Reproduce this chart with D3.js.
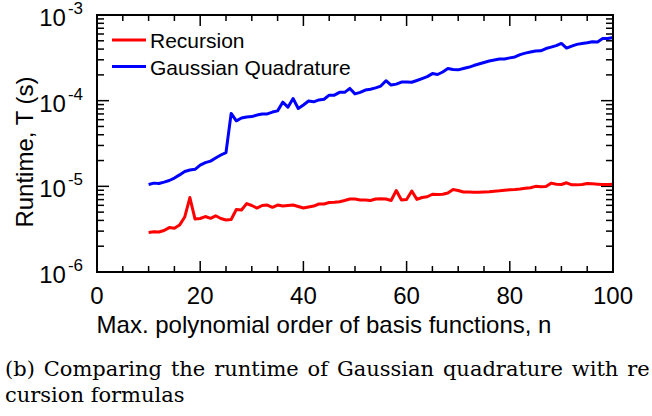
<!DOCTYPE html>
<html>
<head>
<meta charset="utf-8">
<script src="https://cdn.jsdelivr.net/npm/d3@7"></script>
<style>
  html, body { margin: 0; padding: 0; background: #fff; }
  svg { display: block; }
</style>
</head>
<body>
<svg id="chart" width="652" height="416"></svg>
<script>
// ---- data ----
const orderN = [10,11,12,13,14,15,16,17,18,19,20,21,22,23,24,25,26,27,28,29,
  30,31,32,33,34,35,36,37,38,39,40,41,42,43,44,45,46,47,48,49,
  50,51,52,53,54,55,56,57,58,59,60,61,62,63,64,65,66,67,68,69,
  70,71,72,73,74,75,76,77,78,79,80,81,82,83,84,85,86,87,88,89,
  90,91,92,93,94,95,96,97,98,99,100];

const recursionT = [
  2.89e-6, 2.95e-6, 2.93e-6, 3.05e-6, 3.30e-6, 3.24e-6, 3.53e-6, 4.38e-6, 7.4e-6, 4.15e-6,
  4.21e-6, 4.44e-6, 4.23e-6, 4.53e-6, 4.21e-6, 4.04e-6, 4.10e-6, 5.36e-6, 5.29e-6, 6.29e-6,
  5.97e-6, 5.58e-6, 5.97e-6, 6.05e-6, 5.69e-6, 6.05e-6, 5.89e-6, 5.97e-6, 6.05e-6, 5.81e-6,
  5.58e-6, 5.73e-6, 5.89e-6, 6.22e-6, 6.22e-6, 6.47e-6, 6.50e-6, 6.61e-6, 6.83e-6, 7.11e-6,
  7.11e-6, 6.92e-6, 6.92e-6, 6.83e-6, 7.11e-6, 7.17e-6, 7.11e-6, 6.83e-6, 8.93e-6, 6.92e-6,
  7.01e-6, 8.81e-6, 7.04e-6, 7.40e-6, 7.56e-6, 8.08e-6, 8.05e-6, 8.10e-6, 8.35e-6, 9.18e-6,
  8.93e-6, 8.58e-6, 8.60e-6, 8.51e-6, 8.52e-6, 8.58e-6, 8.65e-6, 8.77e-6, 8.86e-6, 9.01e-6,
  9.13e-6, 9.20e-6, 9.30e-6, 9.48e-6, 9.64e-6, 1.00e-5, 9.89e-6, 9.94e-6, 1.09e-5, 1.06e-5,
  1.05e-5, 1.10e-5, 1.04e-5, 1.04e-5, 1.05e-5, 1.08e-5, 1.07e-5, 1.06e-5, 1.05e-5, 1.05e-5,
  1.06e-5];

const gaussianT = [
  1.05e-5, 1.09e-5, 1.08e-5, 1.12e-5, 1.17e-5, 1.25e-5, 1.36e-5, 1.49e-5, 1.55e-5, 1.58e-5,
  1.77e-5, 1.89e-5, 1.97e-5, 2.14e-5, 2.32e-5, 2.48e-5, 7.1e-5, 5.82e-5, 6.27e-5, 6.44e-5,
  6.52e-5, 6.79e-5, 6.98e-5, 7.0e-5, 7.36e-5, 7.6e-5, 9.6e-5, 8.4e-5, 1.06e-4, 8.1e-5,
  8.9e-5, 9.9e-5, 9.7e-5, 1.02e-4, 1.04e-4, 1.16e-4, 1.16e-4, 1.25e-4, 1.25e-4, 1.39e-4,
  1.20e-4, 1.25e-4, 1.33e-4, 1.36e-4, 1.41e-4, 1.48e-4, 1.71e-4, 1.52e-4, 1.56e-4, 1.65e-4,
  1.65e-4, 1.64e-4, 1.72e-4, 1.81e-4, 1.91e-4, 2.07e-4, 2.02e-4, 2.16e-4, 2.37e-4, 2.31e-4,
  2.29e-4, 2.37e-4, 2.45e-4, 2.57e-4, 2.68e-4, 2.79e-4, 2.90e-4, 2.98e-4, 3.06e-4, 3.07e-4,
  3.16e-4, 3.24e-4, 3.45e-4, 3.59e-4, 3.69e-4, 3.79e-4, 3.82e-4, 4.06e-4, 4.22e-4, 4.39e-4,
  4.66e-4, 4.11e-4, 4.34e-4, 4.54e-4, 4.64e-4, 4.74e-4, 4.87e-4, 4.85e-4, 5.31e-4, 5.33e-4,
  5.45e-4];

const seriesNames = ["Recursion", "Gaussian Quadrature"];
const seriesColors = ["#ff0000", "#0000ff"];
const xTickValues = [0, 20, 40, 60, 80, 100];
const yTickExponents = ["-6", "-5", "-4", "-3"];
const xLabel = "Max. polynomial order of basis functions, n";
const yLabel = "Runtime, T (s)";
const captionLines = ["(b) Comparing the runtime of Gaussian quadrature with re",
                      "cursion formulas"];

// ---- layout ----
const svg = d3.select("#chart");
const L = 97, R = 613, T = 15, B = 272;
const x = d3.scaleLinear().domain([0, 100]).range([L, R]);
const y = d3.scaleLog().domain([1e-6, 1e-3]).range([B, T]);
const font = "'Liberation Sans', Arial, Helvetica, sans-serif";

// minor/major ticks
const xMinor = d3.range(0, 101, 5).filter(v => v % 20 !== 0);
const yMajor = [1e-6, 1e-5, 1e-4, 1e-3];
const yMinor = [];
[1e-6, 1e-5, 1e-4].forEach(d => { for (let k = 2; k <= 9; k++) yMinor.push(d * k); });

const tickG = svg.append("g").attr("stroke", "#000").attr("stroke-width", 1.5);
function xt(vals, len) {
  vals.forEach(v => {
    tickG.append("line").attr("x1", x(v)).attr("x2", x(v)).attr("y1", B).attr("y2", B - len);
    tickG.append("line").attr("x1", x(v)).attr("x2", x(v)).attr("y1", T).attr("y2", T + len);
  });
}
function yt(vals, len) {
  vals.forEach(v => {
    tickG.append("line").attr("x1", L).attr("x2", L + len).attr("y1", y(v)).attr("y2", y(v));
    tickG.append("line").attr("x1", R).attr("x2", R - len).attr("y1", y(v)).attr("y2", y(v));
  });
}
xt(xMinor, 6); xt(xTickValues, 11);
yt(yMinor, 7); yt(yMajor, 12);

// series lines
const line = d3.line().x((d, i) => x(orderN[i])).y(d => y(d));
[recursionT, gaussianT].forEach((s, k) => {
  svg.append("path").datum(s).attr("d", line)
    .attr("fill", "none").attr("stroke", seriesColors[k])
    .attr("stroke-width", 3).attr("stroke-linejoin", "round");
});

// frame
svg.append("rect").attr("x", L).attr("y", T).attr("width", R - L).attr("height", B - T)
  .attr("fill", "none").attr("stroke", "#000").attr("stroke-width", 2);

// x tick labels
svg.append("g").selectAll("text").data(xTickValues).join("text")
  .attr("x", d => x(d)).attr("y", 304).attr("text-anchor", "middle")
  .attr("font-family", font).attr("font-size", 24).text(d => d);

// y tick labels 10^e
yMajor.forEach((v, i) => {
  const t = svg.append("text").attr("x", 83).attr("y", y(v) + 11).attr("text-anchor", "end")
    .attr("font-family", font).attr("font-size", 24);
  t.append("tspan").text("10");
  t.append("tspan").attr("dy", -12).attr("font-size", 17).attr("dx", 2).text(yTickExponents[i]);
});

// axis labels
svg.append("text").attr("x", 324).attr("y", 333).attr("text-anchor", "middle")
  .attr("font-family", font).attr("font-size", 24).text(xLabel);
svg.append("text").attr("transform", "translate(33,152) rotate(-90)")
  .attr("text-anchor", "middle").attr("font-family", font).attr("font-size", 24).text(yLabel);

// legend
seriesNames.forEach((name, k) => {
  const ly = 40 + k * 26.5;
  svg.append("line").attr("x1", 112).attr("x2", 146).attr("y1", ly).attr("y2", ly)
    .attr("stroke", seriesColors[k]).attr("stroke-width", 3);
  svg.append("text").attr("x", 150).attr("y", ly + 8).attr("font-family", font)
    .attr("font-size", 21).text(name);
});

// caption (first line justified to full width)
captionLines.forEach((c, i) => {
  svg.append("text").attr("x", 5).attr("y", 376 + i * 26)
    .attr("font-family", "'DejaVu Serif', 'Liberation Serif', serif").attr("font-size", 21)
    .attr("word-spacing", i === 0 ? 2.2 : 0).text(c);
});
</script>
</body>
</html>
